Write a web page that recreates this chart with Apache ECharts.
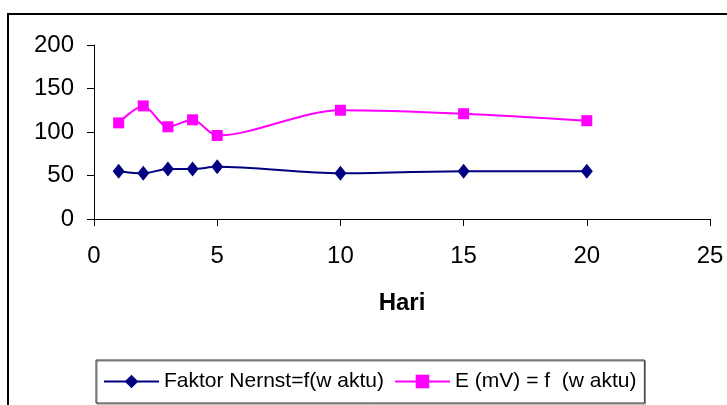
<!DOCTYPE html>
<html><head><meta charset="utf-8">
<script src="https://cdn.jsdelivr.net/npm/echarts@6/dist/echarts.min.js"></script>
<style>html,body{margin:0;padding:0;background:#fff}#c{width:727px;height:405px}</style>
</head><body><div id="c"></div>
<script>
const days = [1, 2, 3, 4, 5, 10, 15, 20];
const nernst = [55, 52.5, 57.5, 57.5, 60, 52.5, 55, 55];
const emv = [110.5, 130, 106, 114, 96, 125, 121, 113];
const seriesNames = ['Faktor Nernst=f(w aktu)', 'E (mV) = f  (w aktu)'];
const xTitle = 'Hari';

const chart = echarts.init(document.getElementById('c'), null, {renderer: 'canvas'});
const font = 'Liberation Sans';
chart.setOption({
  animation: false,
  backgroundColor: '#fff',
  graphic: [{type: 'rect', shape: {x: 8, y: 14, width: 900, height: 600},
    style: {fill: 'none', stroke: '#000', lineWidth: 2}, silent: true}],
  grid: {left: 94, right: 17, top: 45, bottom: 186},
  xAxis: {
    type: 'value', min: 0, max: 25, interval: 5,
    name: xTitle, nameLocation: 'middle', nameGap: 72,
    nameTextStyle: {fontFamily: font, fontSize: 24, fontWeight: 'bold', color: '#000'},
    axisLine: {lineStyle: {color: '#000', width: 1}},
    axisTick: {show: true, inside: false, length: 7, lineStyle: {color: '#000'}},
    axisLabel: {fontFamily: font, fontSize: 24, color: '#000', margin: 25},
    splitLine: {show: false}
  },
  yAxis: {
    type: 'value', min: 0, max: 200, interval: 50,
    axisLine: {show: true, lineStyle: {color: '#000', width: 1}},
    axisTick: {show: true, length: 7, lineStyle: {color: '#000'}},
    axisLabel: {fontFamily: font, fontSize: 24, color: '#000', margin: 20},
    splitLine: {show: false}
  },
  legend: {
    left: 96, top: 360,
    padding: [11, 8, 11, 7], itemGap: 10,
    borderColor: '#333', borderWidth: 1,
    shadowColor: 'rgba(0,0,0,0.5)', shadowOffsetX: 1, shadowOffsetY: 1, shadowBlur: 0,
    itemWidth: 55, itemHeight: 17,
    textStyle: {fontFamily: font, fontSize: 21, color: '#000'},
    data: seriesNames
  },
  series: [
    {name: seriesNames[0], type: 'line', data: days.map((d, i) => [d, nernst[i]]),
     smooth: 0.3, symbol: 'diamond', symbolSize: [12, 15],
     lineStyle: {color: '#000080', width: 2}, itemStyle: {color: '#000080'}},
    {name: seriesNames[1], type: 'line', data: days.map((d, i) => [d, emv[i]]),
     smooth: 0.3, symbol: 'rect', symbolSize: 11,
     lineStyle: {color: '#ff00ff', width: 2}, itemStyle: {color: '#ff00ff'}}
  ]
});
</script></body></html>
